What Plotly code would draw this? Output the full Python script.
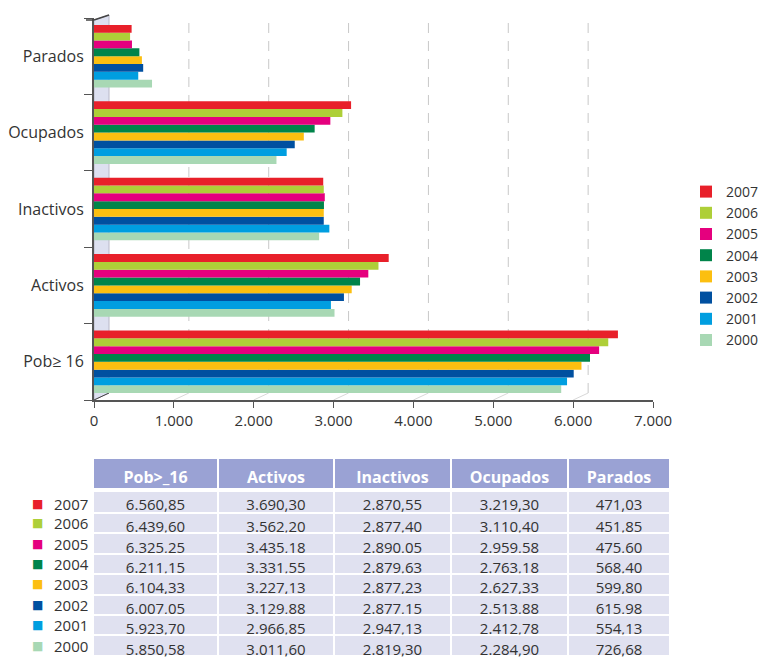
import plotly.graph_objects as go

W, H = 770, 660
PAGE_OFF = 8  # browser body margin around the plot div

categories = ["Pob≥ 16", "Activos", "Inactivos", "Ocupados", "Parados"]
table_headers = ["Pob>_16", "Activos", "Inactivos", "Ocupados", "Parados"]
years = ["2007", "2006", "2005", "2004", "2003", "2002", "2001", "2000"]

v2007 = [6560.85, 3690.30, 2870.55, 3219.30, 471.03]
v2006 = [6439.60, 3562.20, 2877.40, 3110.40, 451.85]
v2005 = [6325.25, 3435.18, 2890.05, 2959.58, 475.60]
v2004 = [6211.15, 3331.55, 2879.63, 2763.18, 568.40]
v2003 = [6104.33, 3227.13, 2877.23, 2627.33, 599.80]
v2002 = [6007.05, 3129.88, 2877.15, 2513.88, 615.98]
v2001 = [5923.70, 2966.85, 2947.13, 2412.78, 554.13]
v2000 = [5850.58, 3011.60, 2819.30, 2284.90, 726.68]

series = [v2007, v2006, v2005, v2004, v2003, v2002, v2001, v2000]
colors = ["#e8202a", "#aecf38", "#e5007e", "#00844a",
          "#fcbf10", "#0050a0", "#009ee0", "#a8d8b4"]

x_ticks = [0, 1000, 2000, 3000, 4000, 5000, 6000, 7000]

FONT = "Open Sans"
TXT = "#333333"


def px(x):
    return (x - PAGE_OFF) / W


def py(y):
    return 1 - (y - PAGE_OFF) / H


def fmt(v):
    s = f"{v:,.2f}"
    return s.replace(",", "X").replace(".", ",").replace("X", ".")


fig = go.Figure()

# bars: add oldest first so 2007 sits on top of each group
for yr, vals, col in reversed(list(zip(years, series, colors))):
    fig.add_trace(go.Bar(
        x=vals, y=categories, orientation="h", name=yr,
        marker=dict(color=col, line=dict(width=0)),
        hoverinfo="x+name",
    ))

# plot area geometry (screen pixels)
L, R, T, B = 94, 653, 18, 400
DEPTH = 15

shapes = []
# side wall
shapes.append(dict(
    type="path", xref="paper", yref="paper", layer="below",
    path=f"M{px(L)},{py(20)} L{px(L+DEPTH)},{py(T-3)} L{px(L+DEPTH)},{py(B-7)} L{px(L)},{py(B)} Z",
    fillcolor="#dde0f0", line=dict(color="#b8b8c8", width=1)))
shapes.append(dict(type="line", xref="paper", yref="paper",
                   x0=px(86), y0=py(20), x1=px(L), y1=py(20),
                   line=dict(color="#444", width=1.5)))
shapes.append(dict(type="line", xref="paper", yref="paper",
                   x0=px(L), y0=py(20), x1=px(L+DEPTH), y1=py(T-3),
                   line=dict(color="#444", width=1.5)))
# back gridlines (dashed) and floor diagonals, offset by the 3D depth
for t in x_ticks:
    if t > 0:
        shapes.append(dict(type="line", xref="x", xsizemode="pixel", xanchor=t,
                           x0=DEPTH, x1=DEPTH, yref="paper",
                           y0=py(B-7), y1=py(T-3), layer="below",
                           line=dict(color="#c8c8c8", width=1, dash="10px,8px")))
    shapes.append(dict(type="line", xref="x", xsizemode="pixel", xanchor=t,
                       x0=0, x1=DEPTH, yref="paper",
                       y0=py(B), y1=py(B-7), layer="below",
                       line=dict(color="#444" if t == 0 else "#d8d8d8", width=1)))

# table
tbl_x = [px(93), px(670)]
HDR_TOP, HDR_H = 458, 29
ROW_TOP, ROW1_H, ROW_H = 491, 22, 20.4
CW = [125, 116, 117, 117, 102]
CELL_FILL = "#e0e1f0"
EMPTY = dict(values=[[""] for _ in table_headers], fill_color="rgba(0,0,0,0)",
             line=dict(color="rgba(0,0,0,0)", width=0), height=1)


def table_band(values, top, height, fill, font):
    fig.add_trace(go.Table(
        domain=dict(x=tbl_x, y=[py(top + height + 1), py(top)]),
        columnwidth=CW,
        header=dict(values=values, fill_color=fill,
                    line=dict(color="white", width=2),
                    font=font, align="center", height=height),
        cells=EMPTY,
    ))


# column header band
table_band([f"<b>{h}</b>" for h in table_headers], HDR_TOP, HDR_H, "#9aa2d4",
           dict(family=FONT, size=16, color="white"))

# one band per year row
row_centers = []
top = ROW_TOP
for i, s in enumerate(series):
    h = ROW1_H if i == 0 else ROW_H
    table_band([fmt(v) for v in s], top, h, CELL_FILL,
               dict(family=FONT, size=15, color=TXT))
    row_centers.append(top + h / 2 + (2 if i == 0 else 0))
    top += h

annotations = []
for yr, col, yc in zip(years, colors, row_centers):
    annotations.append(dict(xref="paper", yref="paper", x=px(37), y=py(yc),
                            xanchor="center", yanchor="middle",
                            text="■", showarrow=False,
                            font=dict(size=12, color=col, family="DejaVu Sans")))
    annotations.append(dict(xref="paper", yref="paper", x=px(52), y=py(yc),
                            xanchor="left", yanchor="middle", text=yr, showarrow=False,
                            font=dict(size=15, color=TXT, family=FONT)))

fig.update_layout(
    width=W, height=H,
    margin=dict(l=0, r=0, t=0, b=0, autoexpand=False),
    paper_bgcolor="white", plot_bgcolor="rgba(0,0,0,0)",
    barmode="group", bargap=0.18, bargroupgap=0.0,
    separators=",.",
    font=dict(family=FONT, color=TXT),
    xaxis=dict(domain=[px(L), px(R)], range=[0, 7000], tickvals=x_ticks,
               tickformat=",", showgrid=False, zeroline=False, automargin=False,
               showline=True, linecolor="#555", linewidth=1.5,
               ticks="outside", ticklen=6, tickcolor="#555",
               tickfont=dict(size=15, color=TXT, family=FONT)),
    yaxis=dict(domain=[py(B), py(T)], type="category",
               categoryorder="array", categoryarray=categories,
               showgrid=False, zeroline=False, automargin=False,
               showline=True, linecolor="#555", linewidth=2,
               ticks="outside", ticklen=8, tickcolor="#555", tickson="boundaries",
               ticklabelstandoff=5,
               tickfont=dict(size=16, color=TXT, family=FONT)),
    legend=dict(x=px(764), y=py(176), xanchor="right", yanchor="top",
                traceorder="reversed", font=dict(size=14, color=TXT, family=FONT),
                bgcolor="rgba(0,0,0,0)", itemclick=False),
    shapes=shapes,
    annotations=annotations,
)

fig.write_html("out.html")
